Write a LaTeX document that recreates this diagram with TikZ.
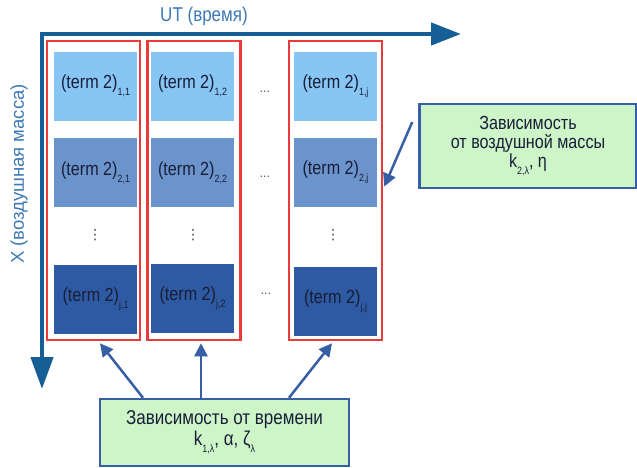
\documentclass[tikz,border=0pt]{standalone}
\usepackage{fontspec}
\setmainfont[FakeStretch=0.85]{Liberation Sans}
\newfontfamily\plainf{Liberation Sans}
\newfontfamily\dejavu{DejaVu Sans}
\usetikzlibrary{arrows.meta,calc}
\definecolor{axisc}{RGB}{22,94,150}
\definecolor{axlab}{RGB}{60,120,180}
\definecolor{redc}{RGB}{232,60,60}
\definecolor{rowa}{RGB}{135,197,245}
\definecolor{rowb}{RGB}{108,148,204}
\definecolor{rowc}{RGB}{46,90,163}
\definecolor{greenf}{RGB}{205,245,200}
\definecolor{connc}{RGB}{55,95,165}
\definecolor{txtc}{RGB}{25,30,55}
\newcommand\sbx[1]{\raisebox{-7pt}{\fontsize{10.5}{10.5}\selectfont #1}}
\begin{document}
\begin{tikzpicture}[x=1pt,y=-1pt,
  colbox/.style={draw=redc,line width=2.5pt,minimum width=93pt,minimum height=299pt,inner sep=0pt},
  term/.style={minimum width=83pt,minimum height=69pt,inner sep=0pt,text=txtc,font=\fontsize{19}{19}\selectfont},
  terma/.style={term,fill=rowa},
  termb/.style={term,fill=rowb},
  termc/.style={term,fill=rowc},
  gbox/.style={draw=connc,fill=greenf,line width=2.5pt,inner sep=0pt,align=center,text=txtc},
  conn/.style={draw=connc,line width=2.5pt,-{Triangle[length=13pt,width=13pt]}},
  dotsn/.style={text=black!75,font=\fontsize{13}{13}\selectfont},
  vdotsn/.style={text=black!75,font=\dejavu\fontsize{14}{14}\selectfont},
  axlabel/.style={text=axlab,font=\fontsize{20}{20}\selectfont}
]
\useasboundingbox (0,0) rectangle (637,467);
% axes
\coordinate (o) at (42,34);
\coordinate (xe) at (461,34);
\coordinate (ye) at (42,389);
\draw[axisc,line width=4.5pt,-{Triangle[length=30pt,width=22pt]}] ([xshift=-2.25pt]o) -- (xe);
\draw[axisc,line width=4.5pt,-{Triangle[length=32pt,width=22pt]}] (o) -- (ye);
\node[axlabel] (utl) at (204,16) {UT (время)};
\node[axlabel,font=\plainf\fontsize{18.5}{18.5}\selectfont,rotate=90] (xl) at (19,174) {X (воздушная масса)};
% columns
\node[colbox] (c1) at (93.5,190.5) {};
\node[colbox] (c2) at (194,190.5) {};
\node[colbox] (c3) at (335.5,190.5) {};
% terms
\node[terma] (t11) at (95.5,86) {(term 2)\sbx{1,1}};
\node[terma] (t12) at (192.5,86) {(term 2)\sbx{1,2}};
\node[terma] (t1j) at (335.5,86) {(term 2)\sbx{1,j}};
\node[termb] (t21) at (95.5,172.5) {(term 2)\sbx{2,1}};
\node[termb] (t22) at (192.5,172.5) {(term 2)\sbx{2,2}};
\node[termb] (t2j) at (335.5,172.5) {(term 2)\sbx{2,j}};
\node[termc] (tj1) at (95.5,299) {(term 2)\sbx{j,1}};
\node[termc] (tj2) at (192.5,298) {(term 2)\sbx{j,2}};
\node[termc] (tjj) at (335.5,301) {(term 2)\sbx{j,j}};
% dots
\node[dotsn] (h1) at (265,92) {…};
\node[dotsn] (h2) at (265,177) {…};
\node[dotsn] (h3) at (266,294) {…};
\node[vdotsn] (v1) at (95,235) {⋮};
\node[vdotsn] (v2) at (193,235) {⋮};
\node[vdotsn] (v3) at (333,235) {⋮};
% green boxes
\node[gbox,minimum width=217pt,minimum height=84pt,font=\fontsize{19}{19}\selectfont] (air) at (528,146)
  {Зависимость\\от воздушной массы\\k\sbx{2,λ}, η};
\node[gbox,minimum width=249pt,minimum height=67pt,font=\fontsize{20}{21}\selectfont] (time) at (224.5,432.5)
  {Зависимость от времени\\k\sbx{1,λ}, α, ζ\sbx{λ}};
% connectors
\draw[conn] ([xshift=-81.5pt]time.north) -- ([xshift=6.5pt,yshift=-2pt]c1.south);
\draw[conn] ([xshift=-23.5pt]time.north) -- ([xshift=7pt,yshift=-2pt]c2.south);
\draw[conn] ([xshift=64.5pt]time.north) -- ([xshift=-3.5pt,yshift=-2pt]c3.south);
\draw[conn] ([xshift=-6pt,yshift=24pt]air.west) -- ([xshift=1pt,yshift=4pt]c3.east);
\end{tikzpicture}
\end{document}
